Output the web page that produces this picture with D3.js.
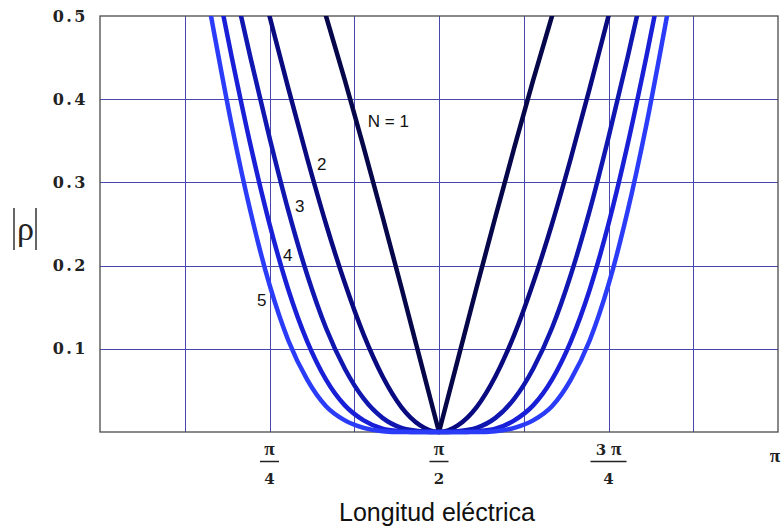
<!DOCTYPE html>
<html>
<head>
<meta charset="utf-8">
<script src="https://cdn.jsdelivr.net/npm/d3@7"></script>
<style>
  body { margin: 0; background: #fff; }
  svg { display: block; }
</style>
</head>
<body>
<svg id="chart" width="784" height="528"></svg>
<script>
// electrical length in degrees (0..180 = 0..pi)
var thetaDeg = [25,30,35,40,45,50,55,60,65,70,75,80,85,90,95,100,105,110,115,120,125,130,135,140,145,150,155];

// |rho| (values above 0.5 leave the frame)
var rho1 = [null,null,null,null,null,null,0.574,0.500,0.423,0.342,0.259,0.174,0.087,0,0.087,0.174,0.259,0.342,0.423,0.500,0.574,null,null,null,null,null,null];
var rho2 = [null,null,0.671,0.587,0.500,0.413,0.329,0.250,0.179,0.117,0.067,0.030,0.008,0,0.008,0.030,0.067,0.117,0.179,0.250,0.329,0.413,0.500,0.587,0.671,null,null];
var rho3 = [null,0.650,0.549,0.449,0.354,0.266,0.189,0.125,0.076,0.040,0.017,0.005,0.001,0,0.001,0.005,0.017,0.040,0.076,0.125,0.189,0.266,0.354,0.449,0.549,0.650,null];
var rho4 = [0.674,0.563,0.450,0.344,0.250,0.171,0.109,0.063,0.032,0.014,0.004,0.001,0,0,0,0.001,0.004,0.014,0.032,0.063,0.109,0.171,0.250,0.344,0.450,0.563,0.674];
var rho5 = [0.610,0.487,0.368,0.264,0.177,0.110,0.063,0.031,0.014,0.005,0.001,0,0,0,0,0,0.001,0.005,0.014,0.031,0.063,0.110,0.177,0.264,0.368,0.487,0.610];

var seriesNames = ['N = 1','2','3','4','5'];
var seriesColors = ['#06064a','#0a0a80','#1016b0','#181fd6','#2a3cf8'];

var yTicks = [0.1,0.2,0.3,0.4,0.5];
var xTickPos = [45,90,135,180];
var xTickNum = ['\u03c0','\u03c0','3 \u03c0','\u03c0'];
var xTickDen = ['4','2','4',null];

// label anchor positions (theta deg, rho) for curve labels
var labelAt = [[71.1,0.367],[57.6,0.315],[51.8,0.265],[48.6,0.205],[41.7,0.151]];

var svg = d3.select('#chart');
var pLeft = 100, pRight = 778, pTop = 16, pBottom = 432;

var x = d3.scaleLinear().domain([0,180]).range([pLeft,pRight]);
var y = d3.scaleLinear().domain([0,0.5]).range([pBottom,pTop]);
function crisp(v) { return Math.round(v) + 0.5 }

// grid
var grid = svg.append('g').attr('class','grid');
grid.selectAll('line.v')
  .data([22.5,45,67.5,90,112.5,135,157.5])
  .enter().append('line')
  .attr('x1', function(d){ return crisp(x(d)) }).attr('x2', function(d){ return crisp(x(d)) })
  .attr('y1', pTop).attr('y2', pBottom)
  .attr('stroke','#4848ac').attr('stroke-width',1);
grid.selectAll('line.h')
  .data([0.1,0.2,0.3,0.4])
  .enter().append('line')
  .attr('y1', function(d){ return crisp(y(d)) }).attr('y2', function(d){ return crisp(y(d)) })
  .attr('x1', pLeft).attr('x2', pRight)
  .attr('stroke','#4848ac').attr('stroke-width',1);

// frame
svg.append('rect')
  .attr('x', pLeft).attr('y', pTop)
  .attr('width', pRight-pLeft).attr('height', pBottom-pTop)
  .attr('fill','none').attr('stroke','#4a4a4a').attr('stroke-width',1.3);

// y axis labels
var yAxis = d3.axisLeft(y).tickValues(yTicks).tickSize(0).tickPadding(12)
  .tickFormat(d3.format('.1f'));
var yg = svg.append('g').attr('transform','translate(' + pLeft + ',0)').call(yAxis);
yg.select('.domain').remove();
yg.selectAll('text')
  .attr('font-family','DejaVu Serif').attr('font-weight','bold')
  .attr('font-size',16).attr('fill','#222')
  .attr('letter-spacing','2.5px').attr('dx','0px');

// x labels (fractions of pi)
var xl = svg.append('g').attr('font-family','DejaVu Serif').attr('font-weight','bold')
  .attr('font-size',15).attr('fill','#222').attr('text-anchor','middle');
function piText(sel, str) {
  // digits in DejaVu Serif, pi in Liberation Serif
  str.split(' ').forEach(function(part, k){
    var t = sel.append('tspan').text((k > 0 ? ' ' : '') + part);
    if (part == '\u03c0') t.attr('font-family','Liberation Serif').attr('font-size',19);
  });
}
xTickPos.forEach(function(p, i){
  var cx = x(p);
  if (xTickDen[i] == null) {
    piText(xl.append('text').attr('x', cx - 3).attr('y', 462), xTickNum[i]);
    return;
  }
  piText(xl.append('text').attr('x', cx).attr('y', 455), xTickNum[i]);
  var w = xTickNum[i].length > 1 ? 36 : 19;
  xl.append('line').attr('x1', cx - w/2).attr('x2', cx + w/2)
    .attr('y1', 461.5).attr('y2', 461.5).attr('stroke','#222').attr('stroke-width',1.5);
  xl.append('text').attr('x', cx).attr('y', 484).text(xTickDen[i]);
});

// curves
svg.append('clipPath').attr('id','plotclip')
  .append('rect').attr('x', pLeft).attr('y', pTop).attr('width', pRight-pLeft).attr('height', pBottom-pTop+10);

var allSeries = [rho1, rho2, rho3, rho4, rho5];
var curves = svg.append('g').attr('clip-path','url(#plotclip)');
allSeries.forEach(function(vals, i){
  var pts = thetaDeg.map(function(t, k){ return [t, vals[k]] });
  var line = d3.line()
    .defined(function(d){ return d[1] != null })
    .x(function(d){ return x(d[0]) })
    .y(function(d){ return y(d[1]) })
    .curve(i == 0 ? d3.curveLinear : d3.curveMonotoneX);
  curves.append('path')
    .attr('d', line(pts))
    .attr('fill','none')
    .attr('stroke', seriesColors[i])
    .attr('stroke-width',4.5)
    .attr('stroke-linejoin','round');
});

// curve labels
svg.append('g').selectAll('text')
  .data(labelAt)
  .enter().append('text')
  .attr('x', function(d){ return x(d[0]) })
  .attr('y', function(d){ return y(d[1]) })
  .attr('font-family','Liberation Sans, Arial, sans-serif')
  .attr('font-size',17).attr('fill','#111')
  .text(function(d, i){ return seriesNames[i] });

// axis titles
svg.append('text')
  .attr('x', 437).attr('y', 521)
  .attr('text-anchor','middle')
  .attr('font-family','Liberation Sans, Arial, sans-serif')
  .attr('font-size',25).attr('fill','#111')
  .text('Longitud eléctrica');

var rl = svg.append('g');
rl.append('line').attr('x1',14).attr('x2',14).attr('y1',208).attr('y2',250).attr('stroke','#333').attr('stroke-width',1.5);
rl.append('line').attr('x1',36).attr('x2',36).attr('y1',208).attr('y2',250).attr('stroke','#333').attr('stroke-width',1.5);
rl.append('text').attr('x',25.5).attr('y',240)
  .attr('text-anchor','middle')
  .attr('font-family','Liberation Serif, Times New Roman, serif')
  .attr('font-size',34).attr('fill','#222')
  .text('\u03c1');
</script>
</body>
</html>
